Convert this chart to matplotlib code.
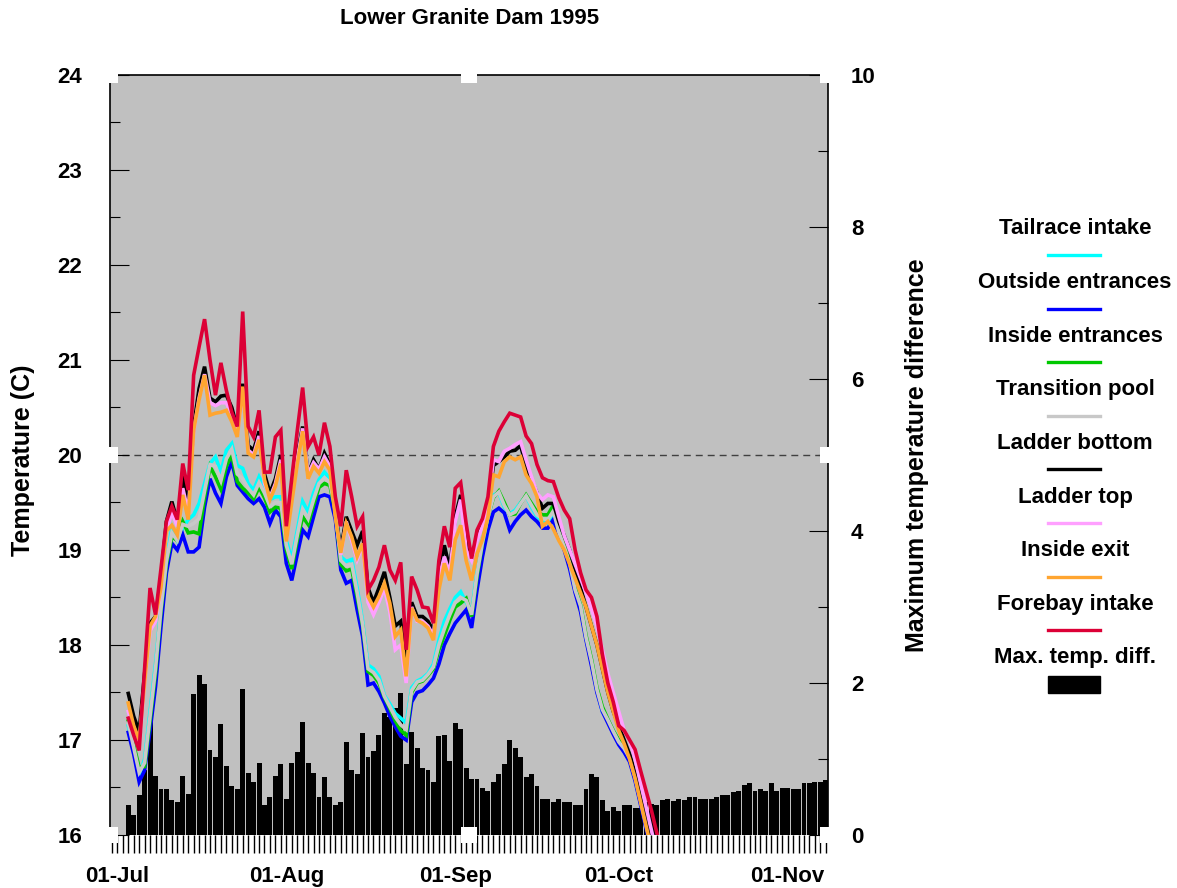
import matplotlib
matplotlib.use('Agg')
import matplotlib.pyplot as plt
import matplotlib.dates as mdates
from matplotlib.lines import Line2D
from matplotlib.patches import Rectangle
from matplotlib.ticker import MultipleLocator
import numpy as np
import pandas as pd

plt.rcParams['font.family'] = ['Liberation Sans', 'DejaVu Sans']
plt.rcParams['font.weight'] = 'bold'

# daily temperatures (C), starting 03-Jul-1995
tailrace = [17.15, 16.90, 16.62, 16.80, 17.30, 17.80, 18.40, 18.90, 19.23, 19.10,
            19.23, 19.32, 19.37, 19.49, 19.70, 19.91, 19.98, 19.82, 20.05, 20.12,
            19.89, 19.86, 19.70, 19.63, 19.77, 19.65, 19.53, 19.56, 19.56, 19.10,
            18.90, 19.20, 19.51, 19.40, 19.60, 19.74, 19.82, 19.75, 19.45, 18.93,
            18.88, 18.90, 18.60, 18.25, 17.79, 17.75, 17.67, 17.47, 17.38, 17.28,
            17.23, 17.18, 17.55, 17.62, 17.65, 17.70, 17.80, 18.05, 18.25, 18.38,
            18.50, 18.56, 18.45, 18.35, 18.78, 19.10, 19.35, 19.58, 19.60, 19.45,
            19.38, 19.42, 19.50, 19.57, 19.45, 19.35, 19.30, 19.28, 19.35, 19.18,
            19.02, 18.85, 18.57, 18.40, 18.07, 17.82, 17.52, 17.30, 17.20, 17.08,
            16.97, 16.90, 16.80, 16.60, 16.35, 16.10, 15.85, 15.60, 15.35]
outside_ent = [17.08, 16.85, 16.56, 16.68, 17.10, 17.56, 18.19, 18.76, 19.07, 19.00,
               19.16, 18.98, 18.98, 19.03, 19.45, 19.75, 19.60, 19.49, 19.77, 19.93,
               19.68, 19.61, 19.54, 19.49, 19.54, 19.45, 19.28, 19.42, 19.35, 18.86,
               18.68, 18.95, 19.21, 19.14, 19.35, 19.56, 19.58, 19.56, 19.32, 18.79,
               18.65, 18.68, 18.37, 18.09, 17.58, 17.60, 17.51, 17.39, 17.25, 17.14,
               17.04, 17.00, 17.40, 17.50, 17.52, 17.58, 17.65, 17.80, 18.00, 18.12,
               18.23, 18.30, 18.37, 18.18, 18.58, 18.93, 19.21, 19.40, 19.44, 19.39,
               19.21, 19.30, 19.37, 19.42, 19.35, 19.30, 19.23, 19.23, 19.32, 19.15,
               19.00, 18.80, 18.55, 18.35, 18.05, 17.78, 17.50, 17.30, 17.18, 17.06,
               16.95, 16.87, 16.77, 16.57, 16.32, 16.07, 15.82, 15.57, 15.32]
inside_ent = [17.20, 16.95, 16.71, 16.72, 17.20, 17.70, 18.35, 18.85, 19.14, 19.10,
              19.30, 19.18, 19.19, 19.17, 19.55, 19.88, 19.77, 19.64, 19.88, 20.00,
              19.72, 19.65, 19.60, 19.54, 19.66, 19.55, 19.40, 19.45, 19.44, 19.00,
              18.80, 19.10, 19.35, 19.27, 19.47, 19.66, 19.70, 19.68, 19.40, 18.85,
              18.78, 18.80, 18.50, 18.20, 17.72, 17.68, 17.60, 17.45, 17.33, 17.20,
              17.10, 17.05, 17.50, 17.60, 17.62, 17.68, 17.75, 17.95, 18.10, 18.26,
              18.40, 18.44, 18.49, 18.30, 18.72, 19.07, 19.35, 19.55, 19.62, 19.50,
              19.37, 19.38, 19.49, 19.58, 19.49, 19.40, 19.37, 19.37, 19.47, 19.20,
              19.05, 18.88, 18.60, 18.42, 18.10, 17.85, 17.55, 17.35, 17.22, 17.10,
              17.00, 16.93, 16.82, 16.62, 16.37, 16.12, 15.87, 15.62, 15.37]
transition = [17.18, 16.92, 16.66, 16.76, 17.25, 17.75, 18.38, 18.88, 19.18, 19.10,
              19.27, 19.25, 19.28, 19.33, 19.62, 19.90, 19.88, 19.73, 19.96, 20.06,
              19.80, 19.75, 19.65, 19.58, 19.71, 19.60, 19.46, 19.50, 19.50, 19.05,
              18.85, 19.15, 19.43, 19.33, 19.53, 19.70, 19.76, 19.71, 19.42, 18.89,
              18.83, 18.85, 18.55, 18.22, 17.75, 17.71, 17.63, 17.46, 17.35, 17.24,
              17.16, 17.11, 17.52, 17.61, 17.63, 17.69, 17.77, 18.00, 18.17, 18.32,
              18.45, 18.50, 18.47, 18.32, 18.75, 19.08, 19.35, 19.56, 19.61, 19.47,
              19.37, 19.40, 19.49, 19.57, 19.47, 19.37, 19.33, 19.32, 19.41, 19.19,
              19.03, 18.86, 18.58, 18.41, 18.08, 17.83, 17.53, 17.32, 17.21, 17.09,
              16.98, 16.91, 16.81, 16.61, 16.36, 16.11, 15.86, 15.61, 15.36]
ladder_bottom = [17.49, 17.25, 17.09, 17.70, 18.23, 18.30, 18.70, 19.30, 19.51, 19.30,
                 19.78, 19.50, 20.30, 20.70, 20.93, 20.60, 20.56, 20.62, 20.63, 20.50,
                 20.28, 20.75, 20.10, 20.05, 20.25, 19.80, 19.60, 19.75, 20.00, 19.15,
                 19.60, 20.00, 20.30, 19.80, 19.95, 19.85, 20.02, 19.90, 19.40, 19.00,
                 19.35, 19.20, 19.05, 19.20, 18.60, 18.45, 18.60, 18.77, 18.50, 18.20,
                 18.25, 17.75, 18.45, 18.30, 18.30, 18.25, 18.15, 18.75, 19.05, 18.80,
                 19.35, 19.58, 19.10, 18.90, 19.15, 19.28, 19.45, 19.89, 19.93, 19.98,
                 20.04, 20.05, 20.10, 19.88, 19.74, 19.60, 19.44, 19.49, 19.49, 19.30,
                 19.15, 19.00, 18.80, 18.60, 18.40, 18.20, 18.00, 17.75, 17.50, 17.30,
                 17.15, 17.00, 16.85, 16.65, 16.40, 16.15, 15.90, 15.65, 15.40]
ladder_top = [17.30, 17.10, 16.95, 17.60, 18.15, 18.25, 18.60, 19.20, 19.40, 19.25,
              19.65, 19.40, 20.25, 20.60, 20.85, 20.55, 20.52, 20.55, 20.55, 20.42,
              20.22, 20.70, 20.05, 20.00, 20.20, 19.70, 19.55, 19.70, 19.95, 19.10,
              19.55, 19.95, 20.28, 19.80, 19.92, 19.85, 19.98, 19.88, 19.38, 18.95,
              19.30, 19.10, 18.90, 19.05, 18.45, 18.32, 18.45, 18.60, 18.35, 17.95,
              18.00, 17.60, 18.40, 18.25, 18.25, 18.20, 18.10, 18.70, 18.93, 18.75,
              19.30, 19.53, 19.00, 18.89, 19.10, 19.25, 19.45, 19.95, 19.93, 20.04,
              20.07, 20.11, 20.14, 19.95, 19.77, 19.60, 19.53, 19.58, 19.56, 19.35,
              19.15, 19.00, 18.85, 18.70, 18.55, 18.38, 18.20, 17.95, 17.70, 17.50,
              17.30, 17.10, 17.00, 16.80, 16.55, 16.30, 16.05, 15.80, 15.55]
inside_exit = [17.39, 17.15, 17.00, 17.60, 18.20, 18.30, 18.60, 19.20, 19.26, 19.16,
               19.58, 19.32, 20.26, 20.58, 20.84, 20.42, 20.44, 20.45, 20.47, 20.35,
               20.19, 20.72, 20.02, 19.98, 20.16, 19.74, 19.53, 19.67, 19.91, 19.09,
               19.50, 19.90, 20.25, 19.75, 19.88, 19.81, 19.93, 19.84, 19.35, 18.97,
               19.28, 19.14, 18.93, 19.07, 18.51, 18.40, 18.51, 18.65, 18.44, 18.09,
               18.16, 17.67, 18.39, 18.26, 18.23, 18.18, 18.05, 18.58, 18.86, 18.68,
               19.11, 19.26, 18.89, 18.68, 18.96, 19.11, 19.35, 19.79, 19.77, 19.93,
               19.98, 19.95, 19.98, 19.79, 19.70, 19.56, 19.25, 19.30, 19.22, 19.10,
               19.00, 18.85, 18.70, 18.55, 18.40, 18.20, 18.00, 17.75, 17.50, 17.30,
               17.10, 16.96, 16.80, 16.60, 16.35, 16.10, 15.85, 15.60, 15.35]
forebay = [17.23, 17.05, 16.89, 17.75, 18.60, 18.32, 18.80, 19.30, 19.46, 19.32,
           19.91, 19.63, 20.84, 21.14, 21.43, 21.00, 20.63, 20.97, 20.68, 20.45,
           20.30, 21.51, 20.30, 20.19, 20.47, 19.82, 19.82, 20.19, 20.26, 19.25,
           19.75, 20.25, 20.71, 20.09, 20.19, 20.00, 20.34, 20.09, 19.56, 19.25,
           19.84, 19.56, 19.25, 19.35, 18.58, 18.68, 18.82, 19.05, 18.79, 18.68,
           18.87, 17.95, 18.72, 18.58, 18.40, 18.39, 18.23, 18.89, 19.25, 19.03,
           19.65, 19.71, 19.28, 18.91, 19.21, 19.33, 19.56, 20.09, 20.25, 20.35,
           20.44, 20.42, 20.40, 20.20, 20.12, 19.90, 19.76, 19.73, 19.72, 19.55,
           19.42, 19.33, 19.00, 18.76, 18.58, 18.50, 18.30, 17.90, 17.60, 17.40,
           17.15, 17.10, 17.00, 16.90, 16.68, 16.47, 16.26, 16.02, 15.80]

# daily maximum temperature difference, starting 03-Jul-1995
max_diff = [0.40, 0.26, 0.53, 0.86, 1.51, 0.78, 0.60, 0.60, 0.46, 0.43,
            0.78, 0.54, 1.86, 2.11, 1.99, 1.12, 1.03, 1.46, 0.91, 0.64,
            0.60, 1.92, 0.81, 0.70, 0.95, 0.40, 0.50, 0.78, 0.93, 0.48,
            0.95, 1.09, 1.49, 0.95, 0.81, 0.50, 0.76, 0.50, 0.39, 0.43,
            1.23, 0.86, 0.80, 1.34, 1.03, 1.11, 1.32, 1.60, 1.55, 1.67,
            1.87, 0.93, 1.35, 1.15, 0.88, 0.86, 0.70, 1.30, 1.32, 0.97,
            1.48, 1.40, 0.88, 0.74, 0.74, 0.62, 0.58, 0.70, 0.80, 0.93,
            1.25, 1.15, 1.03, 0.76, 0.80, 0.64, 0.48, 0.48, 0.43, 0.47,
            0.43, 0.44, 0.39, 0.40, 0.60, 0.80, 0.76, 0.46, 0.31, 0.37,
            0.31, 0.39, 0.39, 0.35, 0.35, 0.43, 0.41, 0.39, 0.46, 0.48,
            0.45, 0.48, 0.46, 0.50, 0.50, 0.47, 0.47, 0.48, 0.50, 0.53,
            0.53, 0.57, 0.58, 0.66, 0.68, 0.58, 0.61, 0.58, 0.68, 0.58,
            0.62, 0.62, 0.61, 0.61, 0.68, 0.68, 0.70, 0.70, 0.72]

series_names = ['Tailrace intake', 'Outside entrances', 'Inside entrances',
                'Transition pool', 'Ladder bottom', 'Ladder top', 'Inside exit',
                'Forebay intake']
series_values = [tailrace, outside_ent, inside_ent, transition, ladder_bottom,
                 ladder_top, inside_exit, forebay]
series_colors = ['#00ffff', '#0000ff', '#00c800', '#c8c8c8', '#000000',
                 '#ffa0ff', '#ffa530', '#dc0036']

line_days = mdates.date2num(pd.date_range('1995-07-03', periods=len(forebay)))
bar_days = mdates.date2num(pd.date_range('1995-07-03', periods=len(max_diff)))
jul1 = mdates.date2num(pd.Timestamp('1995-07-01'))

fig = plt.figure(figsize=(11.77, 8.88), dpi=100)
ax = fig.add_axes([110 / 1177, 53 / 888, 718 / 1177, 760 / 888])
axr = ax.twinx()

# bars on the right axis, drawn underneath the temperature lines
ax.set_zorder(axr.get_zorder() + 1)
ax.patch.set_visible(False)
axr.patch.set_visible(True)
axr.patch.set_facecolor('#c0c0c0')

axr.bar(bar_days, max_diff, width=0.9, color='black', align='center')
axr.set_ylim(0, 10)

ax.axhline(20, color='#404040', lw=1, ls=(0, (5, 3.6)), zorder=1)
for vals, col in zip(series_values, series_colors):
    ax.plot(line_days, vals, color=col, lw=2.6, solid_joinstyle='miter')

ax.set_ylim(16, 24)
ax.set_xlim(jul1 - 1.35, jul1 + 130.4)

ax.xaxis.set_major_locator(mdates.MonthLocator(bymonthday=1))
ax.xaxis.set_major_formatter(mdates.DateFormatter('%d-%b'))
ax.xaxis.set_minor_locator(mdates.DayLocator())
ax.tick_params(axis='x', which='both', direction='out', length=13, width=1.0,
               pad=9, labelsize=16)

ax.yaxis.set_major_locator(MultipleLocator(1))
ax.yaxis.set_minor_locator(MultipleLocator(0.5))
ax.tick_params(axis='y', which='major', direction='in', length=13.7, width=0.8,
               pad=20, labelsize=16)
ax.tick_params(axis='y', which='minor', direction='in', length=7.2, width=0.8)

axr.yaxis.set_major_locator(MultipleLocator(2))
axr.yaxis.set_minor_locator(MultipleLocator(1))
axr.tick_params(axis='y', which='major', direction='in', length=13.7, width=0.8,
                pad=16.5, labelsize=16)
axr.tick_params(axis='y', which='minor', direction='in', length=7.2, width=0.8)

for s in axr.spines.values():
    s.set_visible(False)
ax.spines['bottom'].set_visible(False)
for side in ['left', 'top', 'right']:
    ax.spines[side].set_linewidth(1.2)

ax.set_ylabel('Temperature (C)', fontsize=18, fontweight='bold')
ax.yaxis.set_label_coords(-0.104, 0.493)
axr.set_ylabel('Maximum temperature difference', fontsize=18, fontweight='bold')
axr.yaxis.set_label_coords(1.107, 0.5)

# white notches on the frame, as in the original rendering
ax.plot([0, 0, 0, 0.5, 0.5, 1, 1, 1], [0, 0.5, 1, 0, 1, 0, 0.5, 1], 's',
        color='white', ms=11, mew=0, transform=ax.transAxes, clip_on=False,
        zorder=20)

fig.text(470 / 1177, 1 - 18 / 888, 'Lower Granite Dam 1995', ha='center',
         va='center', fontsize=16, fontweight='bold')

# legend: label above a short line sample
lx = 1075 / 1177
step = 53.6
for i, (name, col) in enumerate(zip(series_names + ['Max. temp. diff.'],
                                    series_colors + ['black'])):
    ty = 229 + step * i
    fig.text(lx, 1 - ty / 888, name, ha='center', va='center', fontsize=16,
             fontweight='bold')
    if i < len(series_names):
        fig.add_artist(Line2D([1048 / 1177, 1100 / 1177],
                              [1 - (ty + 26) / 888] * 2, color=col, lw=2.4))
    else:
        fig.add_artist(Rectangle((1048 / 1177, 1 - (ty + 35) / 888),
                                 52 / 1177, 17 / 888, color='black'))

fig.savefig('out.png', dpi=100)
